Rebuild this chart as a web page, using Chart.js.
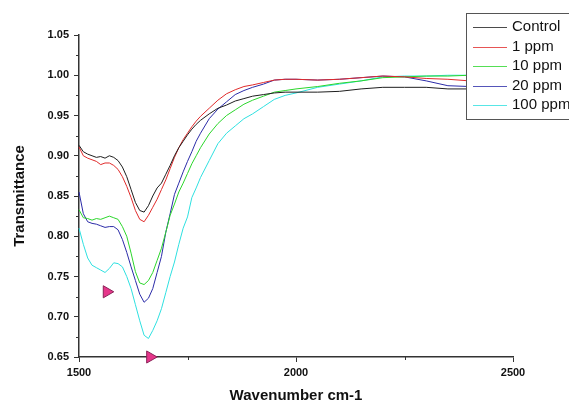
<!DOCTYPE html>
<html>
<head>
<meta charset="utf-8">
<script src="https://cdn.jsdelivr.net/npm/chart.js@4"></script>
<style>
  html, body { margin: 0; padding: 0; background: #ffffff; }
  #wrap { width: 569px; height: 405px; position: relative; }
</style>
</head>
<body>
<div id="wrap"><canvas id="c" width="569" height="405"></canvas></div>
<script>
// ---- Data ----
const wavenumbers = [1500,1510,1520,1530,1540,1550,1560,1570,1580,1590,
  1600,1610,1620,1630,1640,1650,1660,1670,1680,1690,
  1700,1710,1720,1730,1740,1750,1760,1770,1780,
  1800,1820,1840,1860,1880,1900,
  1925,1950,1975,2000,
  2050,2100,2150,2200,2250,2300,2350,2400,2450,2500,
  2600];

const seriesLabels = ['Control', '1 ppm', '10 ppm', '20 ppm', '100 ppm'];

const control = [0.913,0.905,0.902,0.900,0.898,0.899,0.897,0.900,0.898,0.894,
  0.886,0.874,0.858,0.842,0.832,0.830,0.838,0.850,0.860,0.866,
  0.877,0.888,0.900,0.910,0.918,0.926,0.933,0.939,0.944,
  0.952,0.959,0.963,0.968,0.971,0.974,
  0.976,0.978,0.979,0.979,
  0.979,0.980,0.983,0.985,0.985,0.985,0.983,0.983,0.984,0.984,
  0.985];

const ppm1 = [0.911,0.900,0.897,0.895,0.893,0.889,0.891,0.891,0.888,0.883,
  0.874,0.862,0.848,0.832,0.821,0.818,0.826,0.836,0.846,0.858,
  0.870,0.884,0.898,0.910,0.920,0.928,0.936,0.943,0.949,
  0.959,0.969,0.977,0.982,0.986,0.988,
  0.991,0.994,0.995,0.995,
  0.994,0.995,0.997,0.999,0.998,0.996,0.995,0.993,0.992,0.991,
  0.990];

const ppm10 = [0.833,0.823,0.822,0.820,0.822,0.821,0.823,0.825,0.823,0.821,
  0.812,0.800,0.779,0.756,0.742,0.740,0.745,0.755,0.770,0.785,
  0.805,0.826,0.840,0.855,0.866,0.878,0.890,0.900,0.910,
  0.927,0.940,0.950,0.957,0.964,0.969,
  0.974,0.979,0.981,0.983,
  0.986,0.990,0.993,0.997,0.998,0.999,0.999,1.000,1.000,1.000,
  1.001];

const ppm20 = [0.855,0.828,0.818,0.816,0.815,0.813,0.811,0.812,0.812,0.808,
  0.796,0.780,0.762,0.745,0.728,0.718,0.723,0.735,0.755,0.775,
  0.805,0.828,0.852,0.866,0.880,0.893,0.905,0.918,0.928,
  0.946,0.958,0.967,0.976,0.981,0.985,
  0.989,0.994,0.995,0.995,
  0.994,0.995,0.997,0.999,0.998,0.993,0.987,0.986,0.986,0.987,
  0.987];

const ppm100 = [0.810,0.790,0.773,0.764,0.761,0.758,0.755,0.760,0.767,0.766,
  0.762,0.750,0.735,0.715,0.695,0.677,0.673,0.683,0.695,0.710,
  0.730,0.750,0.768,0.790,0.810,0.824,0.848,0.860,0.873,
  0.894,0.915,0.928,0.937,0.946,0.952,
  0.961,0.970,0.975,0.978,
  0.985,0.989,0.993,0.998,0.999,0.999,1.000,1.000,1.001,1.001,
  1.001];

// Marker triangles (pink arrows)
const markerX = [1564, 1664];
const markerY = [0.731, 0.650];

const yTicks = [0.65, 0.70, 0.75, 0.80, 0.85, 0.90, 0.95, 1.00, 1.05];
const xTicks = [1500, 2000, 2500];

// ---- Styles ----
const colors = ['#1e1e1e', '#e02a2a', '#2bd62b', '#2b2ba8', '#2ee0e0'];
const FONT = "Arial, 'Liberation Sans', Helvetica, sans-serif";

const allSeries = [control, ppm1, ppm10, ppm20, ppm100];
const datasets = allSeries.map((vals, i) => ({
  label: seriesLabels[i],
  data: wavenumbers.map((w, k) => ({ x: w, y: vals[k] })),
  borderColor: colors[i],
  backgroundColor: colors[i],
  borderWidth: 1,
  pointRadius: 0,
  tension: 0,
  fill: false,
  clip: false
}));
datasets.push({
  label: 'markers',
  data: markerX.map((x, k) => ({ x: x, y: markerY[k] })),
  showLine: false,
  pointStyle: 'triangle',
  rotation: 90,
  pointRadius: 7,
  pointBackgroundColor: '#e6358a',
  pointBorderColor: '#8a2458',
  pointBorderWidth: 1,
  clip: false
});

const overlay = {
  id: 'overlay',
  afterDraw(chart) {
    const ctx = chart.ctx;
    const xs = chart.scales.x, ys = chart.scales.y;
    ctx.save();
    // minor ticks (midpoints between major ticks)
    ctx.strokeStyle = '#333';
    ctx.lineWidth = 1;
    for (let i = 0; i < yTicks.length - 1; i++) {
      const p = Math.round(ys.getPixelForValue((yTicks[i] + yTicks[i + 1]) / 2)) + 0.5;
      ctx.beginPath(); ctx.moveTo(xs.left - 3, p); ctx.lineTo(xs.left, p); ctx.stroke();
    }
    for (let i = 0; i < xTicks.length - 1; i++) {
      const p = Math.round(xs.getPixelForValue((xTicks[i] + xTicks[i + 1]) / 2)) + 0.5;
      ctx.beginPath(); ctx.moveTo(p, ys.bottom); ctx.lineTo(p, ys.bottom + 3); ctx.stroke();
    }
    // legend box
    const bx = 466.5, by = 13.5, bw = 120, bh = 106;
    ctx.fillStyle = '#ffffff';
    ctx.fillRect(bx, by, bw, bh);
    ctx.strokeStyle = '#555';
    ctx.lineWidth = 1;
    ctx.strokeRect(bx, by, bw, bh);
    ctx.font = '15px ' + FONT;
    ctx.textBaseline = 'middle';
    ctx.textAlign = 'left';
    seriesLabels.forEach((lab, i) => {
      const yy = 27 + i * 19.5;
      ctx.strokeStyle = colors[i];
      ctx.globalAlpha = 0.8;
      ctx.lineWidth = 1;
      ctx.beginPath(); ctx.moveTo(473, Math.round(yy) + 0.5); ctx.lineTo(507, Math.round(yy) + 0.5); ctx.stroke();
      ctx.globalAlpha = 1;
      ctx.fillStyle = '#111';
      ctx.fillText(lab, 512, yy);
    });
    ctx.restore();
  }
};

new Chart(document.getElementById('c'), {
  type: 'line',
  data: { datasets },
  options: {
    responsive: false,
    animation: false,
    events: [],
    layout: { padding: { top: 35, right: 56, left: 0, bottom: 0 } },
    plugins: { legend: { display: false }, tooltip: { enabled: false }, title: { display: false } },
    scales: {
      x: {
        type: 'linear',
        min: 1500, max: 2500,
        afterFit(scale) { scale.height = 48; },
        afterBuildTicks(scale) { scale.ticks = xTicks.map(v => ({ value: v })); },
        border: { display: true, color: '#333', width: 1.5 },
        grid: { display: true, drawOnChartArea: false, drawTicks: true, tickLength: 5, color: '#333', tickColor: '#333' },
        ticks: {
          color: '#111', padding: 4,
          font: { family: FONT, size: 11, weight: 'bold' },
          callback: v => String(v),
          maxRotation: 0
        },
        title: {
          display: true, text: 'Wavenumber cm-1', color: '#111',
          font: { family: FONT, size: 15, weight: 'bold' },
          padding: { top: 0, bottom: 0 }
        }
      },
      y: {
        type: 'linear',
        min: 0.65, max: 1.05,
        afterFit(scale) { scale.width = 79; },
        afterBuildTicks(scale) { scale.ticks = yTicks.map(v => ({ value: v })); },
        border: { display: true, color: '#333', width: 1.5 },
        grid: { display: true, drawOnChartArea: false, drawTicks: true, tickLength: 5, color: '#333', tickColor: '#333' },
        ticks: {
          color: '#111', padding: 5,
          font: { family: FONT, size: 11, weight: 'bold' },
          callback: v => Number(v).toFixed(2)
        },
        title: {
          display: true, text: 'Transmittance', color: '#111',
          font: { family: FONT, size: 15, weight: 'bold' },
          padding: { top: 11, bottom: 0 }
        }
      }
    }
  },
  plugins: [overlay]
});
</script>
</body>
</html>
